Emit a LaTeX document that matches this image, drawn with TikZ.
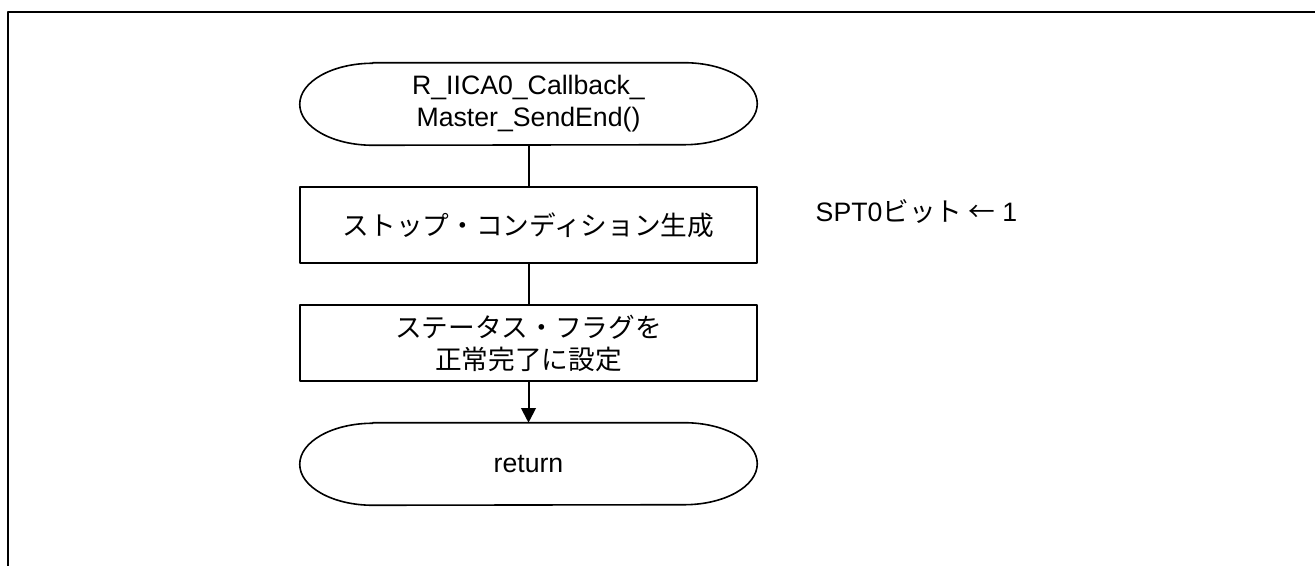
\documentclass[tikz,border=0pt]{standalone}
\usepackage{fontspec}
\setmainfont{Liberation Sans}
\newfontfamily\jpfont{Noto Sans CJK JP}
\usetikzlibrary{arrows.meta}
\begin{document}
\begin{tikzpicture}[x=0.75pt, y=0.75pt, font=\fontsize{20}{24}\selectfont, line join=round, >={Triangle[length=11pt,width=11pt]},
	term/.style={minimum width=342.75pt, minimum height=61.5pt, inner sep=0pt, align=center},
	proc/.style={draw, line width=1.3pt, minimum width=342.75pt, minimum height=57pt, inner sep=0pt, align=center, font=\fontsize{20}{24}\selectfont\jpfont}]
	\useasboundingbox (0,0) rectangle (1315,566);
	\draw[line width=1.6pt] (8,0) -- (8,554) -- (1315,554);
	\node[term] (start) at (528.5,462) {R\_IICA0\_Callback\_\\Master\_SendEnd()};
	\node[proc] (stop) at (528.5,341) {ストップ・コンディション生成};
	\node[proc] (flag) at (528.5,223) {ステータス・フラグを\\正常完了に設定};
	\node[term] (ret) at (528.5,102) {return};
	\node[anchor=west] (spt) at (811,354) {SPT0{\jpfont ビット ←} 1};
	\foreach \n in {start,ret}
		\draw[line width=1.2pt] ([xshift=54.75pt]\n.north west) -- ([xshift=-54.75pt]\n.north east) arc[start angle=90, end angle=-90, x radius=54.75pt, y radius=30.75pt] -- ([xshift=54.75pt]\n.south west) arc[start angle=270, end angle=90, x radius=54.75pt, y radius=30.75pt] -- cycle;
	\draw[line width=1.5pt] (start) -- (stop) (stop) -- (flag);
	\draw[line width=1.5pt, ->] (flag) -- (ret);
\end{tikzpicture}
\end{document}
